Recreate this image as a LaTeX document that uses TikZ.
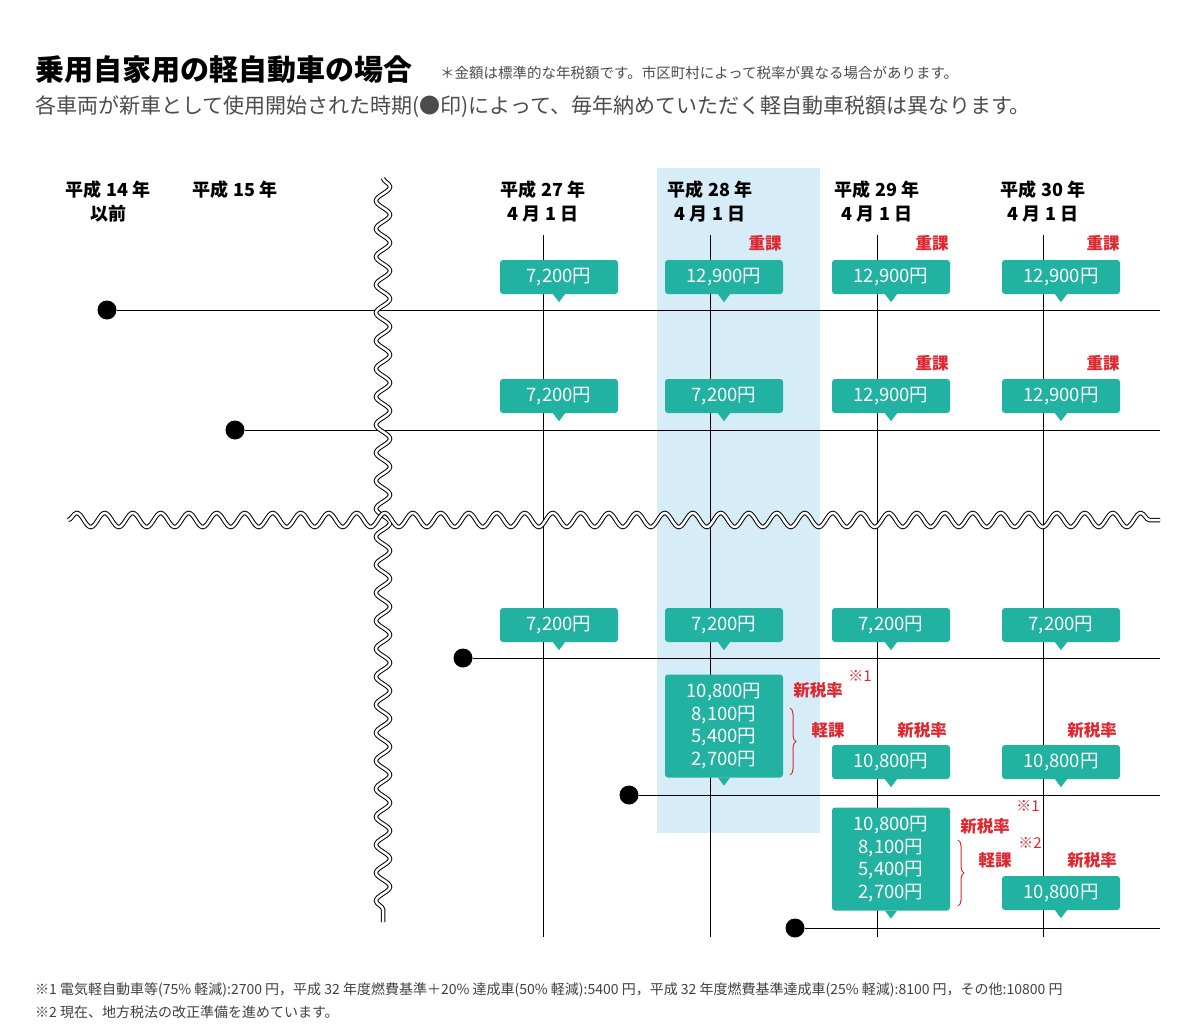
\documentclass[tikz,border=0pt]{standalone}
\usepackage{fontspec}
\setmainfont{Noto Sans CJK JP}
\usetikzlibrary{decorations.pathmorphing,decorations.pathreplacing,positioning}
\definecolor{teal1}{HTML}{22B2A2}
\definecolor{red1}{HTML}{E0262E}
\definecolor{blue1}{HTML}{D6EDF8}
\tikzset{
  fee/.style={fill=teal1,text=white,rounded corners=3pt,minimum width=118pt,minimum height=34pt,font=\fontsize{18.5}{19}\selectfont,inner sep=0pt},
  big/.style={fee,minimum height=103pt,align=center,font=\fontsize{18.5}{22.5}\selectfont},
  tag/.style={text=red1,font=\bfseries\fontsize{16.5}{17}\selectfont,inner sep=0pt},
  head/.style={font=\bfseries\fontsize{18}{24}\selectfont,align=center,inner sep=0pt},
  wave/.style={decorate,decoration={snake,segment length=28pt,amplitude=7pt},line width=1pt,double=white,double distance=2.5pt},
  dot/.style={circle,fill=black,inner sep=0pt,minimum size=19pt},
}
\newcommand{\feebox}[4]{% name, x, y, text
  \node[fee] (#1) at (#2,#3) {#4};
  \fill[teal1] ([xshift=-6pt]#1.south) -- ([xshift=6pt]#1.south) -- ([yshift=-8pt]#1.south) -- cycle;}
\begin{document}
\begin{tikzpicture}[x=1pt,y=-1pt]
\useasboundingbox (0,0) rectangle (1200,1033);
\node[anchor=west,font=\bfseries\fontsize{29}{30}\selectfont,inner sep=0pt] (title) at (35,70) {乗用自家用の軽自動車の場合};
\node[anchor=west,font=\fontsize{14.5}{15}\selectfont,text=black!70,inner sep=0pt] (note) at (440,73) {＊金額は標準的な年税額です。市区町村によって税率が異なる場合があります。};
\node[anchor=west,font=\fontsize{21}{22}\selectfont,text=black!70,inner sep=0pt] (sub) at (35,107) {各車両が新車として使用開始された時期(●印)によって、毎年納めていただく軽自動車税額は異なります。};

\fill[blue1] (657,168) rectangle (820,833);

% headers
\node[head] (h14) at (108,202) {平成 14 年\\以前};
\node[head] (h15) at (235,190) {平成 15 年};
\node[head] (h27) at (543,202) {平成 27 年\\4 月 1 日};
\node[head] (h28) at (710,202) {平成 28 年\\4 月 1 日};
\node[head] (h29) at (877,202) {平成 29 年\\4 月 1 日};
\node[head] (h30) at (1043,202) {平成 30 年\\4 月 1 日};

% columns
\foreach \n/\x in {a/543,b/710,c/877,d/1043}{
  \coordinate (\n top) at (\x,235);
  \coordinate (\n bot) at (\x,937);
  \draw[line width=1pt] (\n top) -- (\n bot);
}

% rows
\foreach \n/\x/\y in {1/107/310,2/235/430,3/463/658,4/629/795,5/795/928}{
  \node[dot] (d\n) at (\x,\y) {};
  \coordinate (e\n) at (1160,\y);
  \draw[line width=1pt] (d\n) -- (e\n);
}

% waves
\coordinate (wv1) at (383,178);
\coordinate (wv2) at (383,922);
\coordinate (wh1) at (68,520);
\coordinate (wh2) at (1160,520);
\draw[wave] (wv1) -- (wv2);
\draw[wave] (wh1) -- (wh2);

% row 1
\feebox{r1a}{559}{277}{7,200円}
\feebox{r1b}{724}{277}{12,900円}
\feebox{r1c}{891}{277}{12,900円}
\feebox{r1d}{1061}{277}{12,900円}
\foreach \x in {765,932,1103} \node[tag] at (\x,243) {重課};
% row 2
\feebox{r2a}{559}{396}{7,200円}
\feebox{r2b}{724}{396}{7,200円}
\feebox{r2c}{891}{396}{12,900円}
\feebox{r2d}{1061}{396}{12,900円}
\foreach \x in {932,1103} \node[tag] at (\x,363) {重課};
% row 3
\feebox{r3a}{559}{625}{7,200円}
\feebox{r3b}{724}{625}{7,200円}
\feebox{r3c}{891}{625}{7,200円}
\feebox{r3d}{1061}{625}{7,200円}
% row 4
\node[big] (r4b) at (724,726) {10,800円\\8,100円\\5,400円\\2,700円};
\fill[teal1] ([xshift=-6pt]r4b.south) -- ([xshift=6pt]r4b.south) -- ([yshift=-8pt]r4b.south) -- cycle;
\node[tag] (t4) at (818,690) {新税率};
\node[tag,font=\fontsize{15}{16}\selectfont] at (860,676) {※1};
\draw[red1,line width=1pt,decorate,decoration={brace,amplitude=6pt}] (790,708) -- (790,775);
\node[tag] at (828,730) {軽課};
\node[tag] at (922,730) {新税率};
\node[tag] at (1092,730) {新税率};
\feebox{r4c}{891}{762}{10,800円}
\feebox{r4d}{1061}{762}{10,800円}
% row 5
\node[big] (r5c) at (891,859) {10,800円\\8,100円\\5,400円\\2,700円};
\fill[teal1] ([xshift=-6pt]r5c.south) -- ([xshift=6pt]r5c.south) -- ([yshift=-8pt]r5c.south) -- cycle;
\node[tag] at (985,826) {新税率};
\node[tag,font=\fontsize{15}{16}\selectfont] at (1028,806) {※1};
\node[tag,font=\fontsize{15}{16}\selectfont] at (1030,843) {※2};
\draw[red1,line width=1pt,decorate,decoration={brace,amplitude=6pt}] (958,840) -- (958,906);
\node[tag] at (995,860) {軽課};
\node[tag] at (1092,860) {新税率};
\feebox{r5d}{1061}{893}{10,800円}

% footnotes
\node[anchor=west,font=\fontsize{14}{15}\selectfont,text=black!75,inner sep=0pt] (fn1) at (35,990) {※1 電気軽自動車等(75\% 軽減):2700 円，平成 32 年度燃費基準＋20\% 達成車(50\% 軽減):5400 円，平成 32 年度燃費基準達成車(25\% 軽減):8100 円，その他:10800 円};
\node[anchor=west,font=\fontsize{14}{15}\selectfont,text=black!75,inner sep=0pt] (fn2) at (35,1012) {※2 現在、地方税法の改正準備を進めています。};
\end{tikzpicture}
\end{document}
